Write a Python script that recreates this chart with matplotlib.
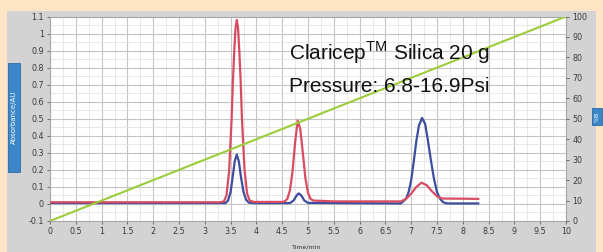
import matplotlib
matplotlib.use("Agg")
import matplotlib.pyplot as plt
from matplotlib.patches import Rectangle
from matplotlib.ticker import MultipleLocator

plt.rcParams['mathtext.fontset'] = 'custom'
plt.rcParams['mathtext.rm'] = 'Liberation Sans'

# ---- data ----
red_x = [0.0, 3.30, 3.37, 3.42, 3.47, 3.52, 3.545, 3.57, 3.595, 3.62, 3.645, 3.67, 3.695,
         3.72, 3.77, 3.82, 3.87, 3.95, 4.50, 4.55, 4.60, 4.65, 4.70, 4.75, 4.80, 4.85,
         4.90, 4.95, 5.00, 5.05, 5.10, 5.50, 6.80, 6.90, 7.00, 7.10, 7.20, 7.30, 7.40,
         7.50, 7.60, 8.30]
red_y = [0.010, 0.010, 0.015, 0.05, 0.19, 0.50, 0.72, 0.89, 1.03, 1.08, 1.03, 0.89, 0.72,
         0.50, 0.20, 0.06, 0.02, 0.012, 0.012, 0.015, 0.03, 0.08, 0.19, 0.36, 0.49, 0.44,
         0.30, 0.15, 0.065, 0.03, 0.02, 0.015, 0.015, 0.03, 0.06, 0.10, 0.125, 0.11, 0.075,
         0.045, 0.032, 0.030]

blue_x = [0.0, 3.30, 3.40, 3.45, 3.50, 3.55, 3.58, 3.62, 3.66, 3.70, 3.75, 3.80, 3.85,
          3.95, 4.60, 4.65, 4.72, 4.78, 4.82, 4.87, 4.93, 5.00, 6.80, 6.90, 6.95, 7.00,
          7.05, 7.10, 7.15, 7.21, 7.27, 7.32, 7.38, 7.44, 7.50, 7.56, 7.62, 7.70, 8.30]
blue_y = [0.005, 0.005, 0.005, 0.02, 0.07, 0.18, 0.25, 0.29, 0.25, 0.16, 0.07, 0.025, 0.008,
          0.005, 0.005, 0.005, 0.02, 0.05, 0.062, 0.05, 0.02, 0.006, 0.003, 0.03, 0.07, 0.14,
          0.25, 0.37, 0.46, 0.505, 0.47, 0.38, 0.26, 0.15, 0.07, 0.03, 0.01, 0.003, 0.003]

gradient_x = [0, 10]
gradient_pct = [0, 100]

x_ticks = [0, 0.5, 1, 1.5, 2, 2.5, 3, 3.5, 4, 4.5, 5, 5.5, 6, 6.5, 7, 7.5, 8, 8.5, 9, 9.5, 10]
x_tick_labels = ["0", "0.5", "1", "1.5", "2", "2.5", "3", "3.5", "4", "4.5", "5", "5.5",
                 "6", "6.5", "7", "7.5", "8", "8.5", "9", "9.5", "10"]
left_ticks = [-0.1, 0, 0.1, 0.2, 0.3, 0.4, 0.5, 0.6, 0.7, 0.8, 0.9, 1.0, 1.1]
left_tick_labels = ["-0.1", "0", "0.1", "0.2", "0.3", "0.4", "0.5", "0.6", "0.7", "0.8",
                    "0.9", "1", "1.1"]
right_ticks = [0, 10, 20, 30, 40, 50, 60, 70, 80, 90, 100]
right_tick_labels = ["0", "10", "20", "30", "40", "50", "60", "70", "80", "90", "100"]

W, H = 603, 252
fig = plt.figure(figsize=(W / 100, H / 100), dpi=100)
fig.patch.set_facecolor('#fde4c4')

# gray instrument panel
fig.patches.append(Rectangle((7 / W, 0), (596 - 7) / W, 1 - 11 / H,
                             transform=fig.transFigure, facecolor='#d3d3d3',
                             edgecolor='none', zorder=-5))

ax = fig.add_axes([50 / W, 1 - 221 / H, (566 - 50) / W, (221 - 16.5) / H])
ax.set_zorder(1)
ax.set_facecolor('white')
ax.set_xlim(0, 10)
ax.set_ylim(-0.1, 1.1)

ax.xaxis.set_minor_locator(MultipleLocator(0.25))
ax.yaxis.set_minor_locator(MultipleLocator(0.05))
ax.grid(which='major', color='#c4c4c4', linewidth=0.8)
ax.grid(which='minor', color='#e4e4e4', linewidth=0.6)
ax.set_axisbelow(True)

tick_kw = dict(labelsize=5.8, labelcolor='#3a3a3a', color='#555555', length=2.5, width=0.6, pad=2)
ax.set_xticks(x_ticks)
ax.set_xticklabels(x_tick_labels)
ax.set_yticks(left_ticks)
ax.set_yticklabels(left_tick_labels)
ax.tick_params(axis='both', which='major', **tick_kw)
ax.tick_params(axis='both', which='minor', length=0)
for s in ax.spines.values():
    s.set_color('#a8a8a8')
    s.set_linewidth(0.8)

ax.plot(blue_x, blue_y, color='#3e4c9e', linewidth=1.6, zorder=3)
ax.plot(red_x, red_y, color='#d84c62', linewidth=1.6, zorder=4)

ax2 = ax.twinx()
ax2.set_ylim(0, 100)
ax2.set_yticks(right_ticks)
ax2.set_yticklabels(right_tick_labels)
ax2.tick_params(axis='y', **tick_kw)
for s in ax2.spines.values():
    s.set_visible(False)
ax2.plot(gradient_x, gradient_pct, color='#9ccc3a', linewidth=1.5, zorder=2)

ax.text(1.0 - (566 - 307) / 516, -0.115, "Time/min", transform=ax.transAxes,
        fontsize=4.5, color='#333333', ha='center', va='top')

# annotation
fig.text(289 / W, 1 - 60 / H, "Claricep$^{\\mathrm{TM}}$ Silica 20 g",
         fontsize=15, family='Liberation Sans', color='#111111', ha='left', va='baseline',
         zorder=10)
fig.text(289 / W, 1 - 92 / H, "Pressure: 6.8-16.9Psi",
         fontsize=15, family='Liberation Sans', color='#111111', ha='left', va='baseline',
         zorder=10)

# axis title boxes
fig.patches.append(Rectangle((8 / W, 1 - 172 / H), 12 / W, 109 / H, transform=fig.transFigure,
                             facecolor='#3a86c6', edgecolor='#2a6aa6', linewidth=0.6, zorder=1))
fig.text(14 / W, 1 - 117.5 / H, "Absorbance/AU", rotation=90, fontsize=5, color='white',
         ha='center', va='center')
fig.patches.append(Rectangle((592 / W, 1 - 125 / H), 10 / W, 17 / H, transform=fig.transFigure,
                             facecolor='#3a86c6', edgecolor='#2a6aa6', linewidth=0.6, zorder=1))
fig.text(597 / W, 1 - 116.5 / H, "%B", rotation=90, fontsize=4.5, color='white',
         ha='center', va='center')

fig.savefig("out.png", dpi=100, facecolor=fig.get_facecolor())
